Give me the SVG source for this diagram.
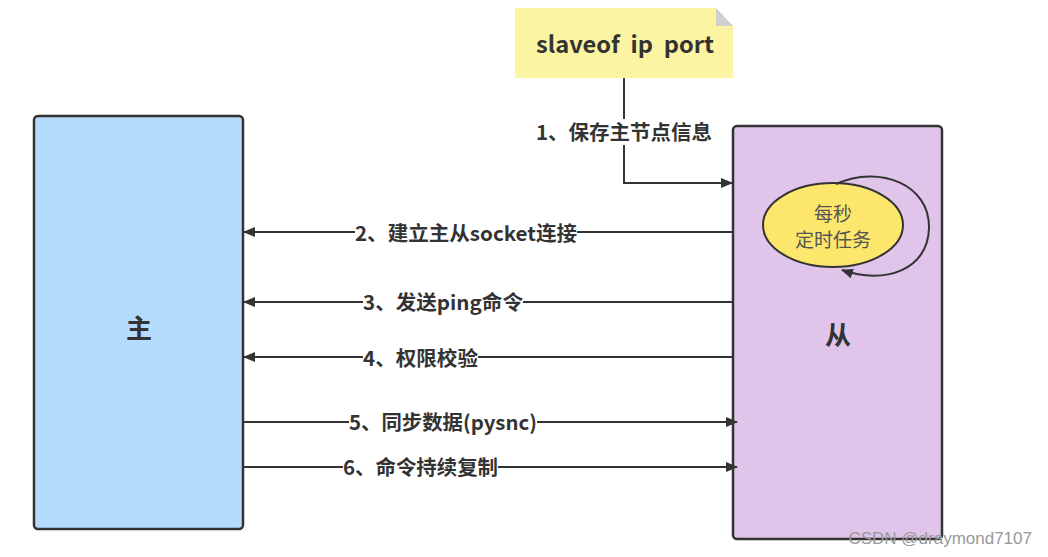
<svg xmlns="http://www.w3.org/2000/svg" width="1048" height="557" viewBox="0 0 1048 557">
<style>
text{font-family:"Noto Sans CJK SC","Liberation Sans",sans-serif;fill:#333;}
.lbl{font-size:20px;font-weight:bold;text-anchor:middle;dominant-baseline:central;}
.conn{stroke:#333;stroke-width:2;fill:none;}
.box{stroke:#333;stroke-width:2.5;}
</style>
<defs>
<marker id="ah" markerWidth="12" markerHeight="10" refX="11" refY="5" orient="auto" markerUnits="userSpaceOnUse">
<path d="M0,0 L12,5 L0,10 Z" fill="#333"/>
</marker>
</defs>
<rect width="1048" height="557" fill="#fff"/>
<g id="master">
<rect class="box" x="34" y="116" width="209" height="413" rx="4" fill="#b5dcfc"/>
<text x="139" y="326" style="font-size:26px;font-weight:bold;text-anchor:middle;dominant-baseline:central;">主</text>
</g>
<g id="slave">
<rect class="box" x="733" y="126" width="209" height="413" rx="4" fill="#e1c4ea"/>
<text x="838" y="333" style="font-size:26px;font-weight:bold;text-anchor:middle;dominant-baseline:central;">从</text>
</g>
<g id="note">
<path d="M515,8 H716 L733,26 V78 H515 Z" fill="#fbf4a2"/>
<path d="M716,8 L733,26 H716 Z" fill="#cfcfcf"/>
<text x="625" y="43" xml:space="preserve" textLength="178" lengthAdjust="spacingAndGlyphs" style="font-size:23px;font-weight:bold;text-anchor:middle;dominant-baseline:central;">slaveof  ip  port</text>
</g>
<g id="timer">
<ellipse cx="833" cy="225" rx="70" ry="42" fill="#fde66c" stroke="#333" stroke-width="2"/>
<text x="833" y="212" style="font-size:19px;fill:#555;text-anchor:middle;dominant-baseline:central;">每秒</text>
<text x="833" y="238" style="font-size:19px;fill:#555;text-anchor:middle;dominant-baseline:central;">定时任务</text>
</g>
<g id="connectors">
<path class="conn" d="M624,78 V183 H732" marker-end="url(#ah)"/>
<path class="conn" d="M836,184 C880,164 930,185 929,228 C928,270 885,285 842,270" marker-end="url(#ah)"/>
<line class="conn" x1="733" y1="232" x2="244" y2="232" marker-end="url(#ah)"/>
<line class="conn" x1="733" y1="302" x2="244" y2="302" marker-end="url(#ah)"/>
<line class="conn" x1="733" y1="357" x2="244" y2="357" marker-end="url(#ah)"/>
<line class="conn" x1="243" y1="422" x2="737" y2="422" marker-end="url(#ah)"/>
<line class="conn" x1="243" y1="467" x2="737" y2="467" marker-end="url(#ah)"/>
</g>
<g id="labels">
<rect x="534" y="119" width="180" height="26" fill="#fff"/>
<text class="lbl" x="624" y="131" textLength="176" lengthAdjust="spacingAndGlyphs">1、保存主节点信息</text>
<rect x="355" y="221" width="222" height="22" fill="#fff"/>
<text class="lbl" x="466" y="232" textLength="222" lengthAdjust="spacingAndGlyphs">2、建立主从socket连接</text>
<rect x="363" y="291" width="160" height="22" fill="#fff"/>
<text class="lbl" x="443" y="301" textLength="160" lengthAdjust="spacingAndGlyphs">3、发送ping命令</text>
<rect x="363" y="346" width="115" height="22" fill="#fff"/>
<text class="lbl" x="420.5" y="357" textLength="115" lengthAdjust="spacingAndGlyphs">4、权限校验</text>
<rect x="349" y="411" width="188" height="22" fill="#fff"/>
<text class="lbl" x="443" y="421" textLength="188" lengthAdjust="spacingAndGlyphs">5、同步数据(pysnc)</text>
<rect x="343" y="456" width="155" height="22" fill="#fff"/>
<text class="lbl" x="420.5" y="466" textLength="155" lengthAdjust="spacingAndGlyphs">6、命令持续复制</text>
</g>
<text x="1032" y="538" style="font-family:'Liberation Sans',sans-serif;font-size:17px;fill:#999;text-anchor:end;dominant-baseline:central;">CSDN @draymond7107</text>
</svg>
